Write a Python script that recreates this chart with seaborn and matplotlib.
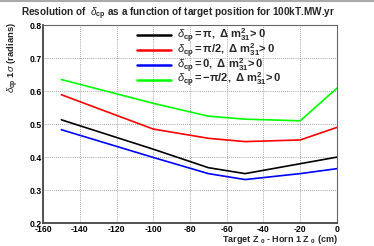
import numpy as np
import pandas as pd
import matplotlib
matplotlib.use("Agg")
import matplotlib.pyplot as plt
import seaborn as sns
from matplotlib.ticker import MultipleLocator

# target position offsets (cm)
z_offset = [-150, -100, -70, -50, -20, 0]

# 1 sigma resolution on delta_cp (radians)
res_pi = [0.513, 0.424, 0.368, 0.350, 0.380, 0.400]
res_pi2 = [0.589, 0.485, 0.457, 0.447, 0.452, 0.490]
res_zero = [0.483, 0.399, 0.350, 0.332, 0.350, 0.365]
res_mpi2 = [0.635, 0.563, 0.524, 0.515, 0.510, 0.609]

labels = [
    r"$\delta_{\mathbf{cp}}\mathbf{=\pi,\ \Delta\ m^{2}_{31}\!>0}$",
    r"$\delta_{\mathbf{cp}}\mathbf{=\pi/2,\ \Delta\ m^{2}_{31}\!>0}$",
    r"$\delta_{\mathbf{cp}}\mathbf{=0,\ \Delta\ m^{2}_{31}\!>0}$",
    r"$\delta_{\mathbf{cp}}\mathbf{=-\pi/2,\ \Delta\ m^{2}_{31}\!>0}$",
]
colors = ["#000000", "#ff0000", "#0000ff", "#00ff00"]

rows = []
for lab, vals in zip(labels, [res_pi, res_pi2, res_zero, res_mpi2]):
    for z, v in zip(z_offset, vals):
        rows.append({"z": z, "res": v, "case": lab})
df = pd.DataFrame(rows)

sns.set_style("white")
plt.rcParams["font.family"] = ["Liberation Sans", "DejaVu Sans"]
plt.rcParams["mathtext.fontset"] = "custom"
plt.rcParams["mathtext.rm"] = "Liberation Sans"
plt.rcParams["mathtext.bf"] = "Liberation Sans:bold"
plt.rcParams["mathtext.it"] = "Liberation Sans:italic"
plt.rcParams["axes.unicode_minus"] = False

fig = plt.figure(figsize=(3.74, 2.46), dpi=100)
ax = fig.add_axes([0.115, 0.093, 0.786, 0.805])

sns.lineplot(data=df, x="z", y="res", hue="case", palette=colors,
             hue_order=labels, linewidth=1.2, ax=ax, legend=True)

ax.set_xlim(-160, 0)
ax.set_ylim(0.2, 0.8)
ax.xaxis.set_major_locator(MultipleLocator(20))
ax.xaxis.set_minor_locator(MultipleLocator(5))
ax.yaxis.set_major_locator(MultipleLocator(0.1))
ax.yaxis.set_minor_locator(MultipleLocator(0.02))
ax.tick_params(which="both", direction="in", top=False, right=False,
               labelsize=6.2, pad=1, colors="#333333", labelcolor="black")
ax.tick_params(which="major", length=6, width=0.8)
ax.tick_params(which="minor", length=3, width=0.6)
for t in ax.get_xticklabels() + ax.get_yticklabels():
    t.set_fontweight("bold")
ax.grid(True, which="major", linestyle=(0, (1, 1.5)), color="#888888", linewidth=0.6)

for s in ["left", "bottom"]:
    ax.spines[s].set_linewidth(1.3)
    ax.spines[s].set_color("#444444")
for s in ["top", "right"]:
    ax.spines[s].set_linewidth(0.8)
    ax.spines[s].set_color("#666666")

ax.set_xlabel("")
ax.set_ylabel("")
fig.text(0.904, 0.0, r"Target Z $_{\mathbf{0}}$ - Horn 1 Z $_{\mathbf{0}}$ (cm)",
         ha="right", va="bottom", fontsize=6.5, fontweight="bold")
fig.text(0.015, 0.91, r"$\delta_{\mathbf{cp}}$ 1$\sigma$ (radians)",
         rotation=90, ha="left", va="top", fontsize=6.8, fontweight="bold")
fig.text(0.055, 0.945, r"Resolution of  $\delta_{\mathbf{cp}}$ as a function of target position for 100kT.MW.yr",
         ha="left", va="center", fontsize=7.2, fontweight="bold")

leg = ax.legend(loc="upper left", bbox_to_anchor=(0.3, 1.02), frameon=False,
                fontsize=8.0, handlelength=3.1, handletextpad=0.5,
                labelspacing=-0.3, borderaxespad=0.1)
for h in leg.get_lines():
    h.set_linewidth(1.8)

fig.add_artist(plt.Line2D([0, 1], [0.997, 0.997], color="#aaaaaa", linewidth=1.5,
                          transform=fig.transFigure))

fig.savefig("out.png", dpi=100)
